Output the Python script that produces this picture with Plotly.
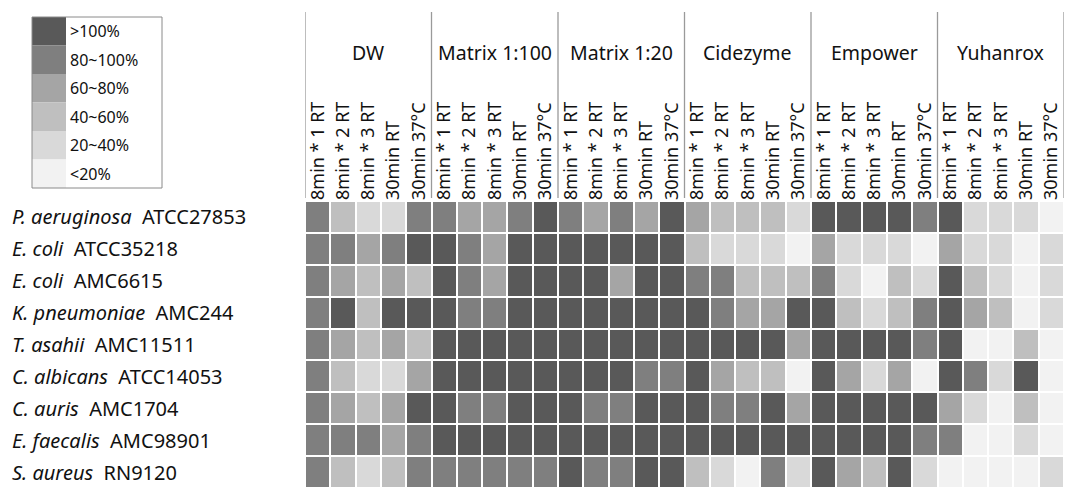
import plotly.graph_objects as go

groups = ["DW", "Matrix 1:100", "Matrix 1:20", "Cidezyme", "Empower", "Yuhanrox"]
conditions = ["8min * 1 RT", "8min * 2 RT", "8min * 3 RT", "30min RT", "30min 37°C"]
species = ["P. aeruginosa", "E. coli", "E. coli", "K. pneumoniae", "T. asahii",
           "C. albicans", "C. auris", "E. faecalis", "S. aureus"]
strains = ["ATCC27853", "ATCC35218", "AMC6615", "AMC244", "AMC11511",
           "ATCC14053", "AMC1704", "AMC98901", "RN9120"]
legend_labels = [">100%", "80~100%", "60~80%", "40~60%", "20~40%", "<20%"]
level_colors = ["#f2f2f2", "#d9d9d9", "#bfbfbf", "#a5a5a5", "#7f7f7f", "#595959"]

# levels: 0=<20%, 1=20~40%, 2=40~60%, 3=60~80%, 4=80~100%, 5=>100%
dw = [[4, 2, 1, 1, 4], [4, 4, 3, 4, 5], [4, 3, 2, 3, 2], [4, 5, 2, 5, 5], [4, 3, 2, 3, 2],
      [4, 2, 1, 1, 3], [4, 3, 2, 3, 5], [4, 4, 4, 3, 4], [4, 2, 1, 2, 4]]
matrix100 = [[4, 3, 3, 4, 5], [5, 4, 3, 5, 5], [5, 4, 3, 5, 5], [5, 4, 4, 5, 5], [5, 5, 5, 5, 5],
             [5, 5, 5, 5, 5], [5, 4, 4, 5, 5], [5, 5, 5, 5, 5], [4, 4, 4, 4, 4]]
matrix20 = [[4, 3, 4, 3, 5], [5, 5, 5, 5, 5], [5, 5, 3, 5, 5], [5, 5, 5, 5, 5], [5, 5, 5, 5, 5],
            [5, 5, 5, 4, 4], [5, 4, 4, 5, 5], [5, 5, 5, 5, 5], [5, 4, 4, 5, 5]]
cidezyme = [[3, 2, 2, 2, 1], [2, 1, 1, 1, 0], [4, 4, 2, 2, 2], [5, 4, 3, 3, 5], [5, 5, 5, 5, 3],
            [5, 3, 2, 2, 0], [5, 4, 4, 5, 3], [5, 5, 5, 5, 5], [2, 1, 0, 4, 1]]
empower = [[5, 5, 5, 5, 4], [3, 1, 1, 1, 0], [4, 1, 0, 2, 1], [5, 2, 1, 2, 4], [5, 5, 5, 5, 4],
           [5, 3, 1, 3, 0], [5, 5, 5, 5, 5], [5, 5, 5, 5, 4], [5, 3, 2, 5, 1]]
yuhanrox = [[5, 1, 1, 1, 0], [3, 1, 1, 0, 1], [5, 2, 1, 0, 1], [5, 3, 2, 0, 1], [5, 0, 0, 2, 0],
            [5, 4, 1, 5, 0], [3, 1, 0, 2, 0], [4, 0, 0, 1, 0], [0, 0, 0, 0, 1]]

blocks = [dw, matrix100, matrix20, cidezyme, empower, yuhanrox]
z = [sum((b[r] for b in blocks), []) for r in range(len(species))]
ncol = len(groups) * len(conditions)
xs = list(range(ncol))
ys = list(range(len(species)))
ticktext = conditions * len(groups)

W, H = 1077, 499
FONT = "Noto Sans"

def px(x):
    return x / W

def py(y):
    return 1 - y / H

n = len(level_colors)
cs = []
for i, c in enumerate(level_colors):
    cs.append([i / n, c])
    cs.append([(i + 1) / n, c])

fig = go.Figure(go.Heatmap(
    z=z, x=xs, y=ys, zmin=-0.5, zmax=n - 0.5, colorscale=cs, showscale=False,
    xgap=2, ygap=2, hoverinfo="skip"))

fig.update_layout(
    width=W, height=H, margin=dict(l=0, r=0, t=0, b=0, pad=0, autoexpand=False),
    paper_bgcolor="white", plot_bgcolor="white",
    font=dict(family=FONT, color="#111111"),
    xaxis=dict(domain=[px(305), px(1064)], side="top", tickmode="array",
               tickvals=xs, ticktext=ticktext, tickangle=-90, automargin=False,
               tickfont=dict(size=18, family=FONT), showgrid=False, zeroline=False,
               ticks="", range=[-0.5, ncol - 0.5], fixedrange=True),
    yaxis=dict(domain=[py(488), py(201)], autorange="reversed", showticklabels=False,
               automargin=False, showgrid=False, zeroline=False, ticks="", fixedrange=True),
)

shapes = []
annotations = []
# group separators and titles
for g in range(len(groups) + 1):
    shapes.append(dict(type="line", xref="x", yref="paper",
                       x0=g * 5 - 0.5, x1=g * 5 - 0.5, y0=py(198), y1=py(12),
                       line=dict(color="#9a9a9a", width=1.3)))
for g, name in enumerate(groups):
    annotations.append(dict(text=name, xref="x", yref="paper", x=g * 5 + 2, y=py(52),
                            showarrow=False, font=dict(size=19.5, family=FONT),
                            xanchor="center", yanchor="middle"))
# row labels
for r, (sp, st) in enumerate(zip(species, strains)):
    annotations.append(dict(text=f"<i>{sp}</i>  {st}", xref="paper", yref="y",
                            x=px(10), y=r, showarrow=False, xanchor="left",
                            yanchor="middle", font=dict(size=20, family=FONT)))
# legend
lx0, lx1, lsw = 32, 162, 66
ly0, ly1 = 17, 188
step = (ly1 - ly0) / len(legend_labels)
for i, lab in enumerate(legend_labels):
    col = level_colors[len(level_colors) - 1 - i]
    shapes.append(dict(type="rect", xref="paper", yref="paper",
                       x0=px(lx0), x1=px(lsw), y0=py(ly0 + (i + 1) * step), y1=py(ly0 + i * step),
                       fillcolor=col, line=dict(width=0)))
    annotations.append(dict(text=lab, xref="paper", yref="paper", x=px(68),
                            y=py(ly0 + (i + 0.5) * step), showarrow=False,
                            xanchor="left", yanchor="middle", font=dict(size=16, family=FONT)))
shapes.append(dict(type="rect", xref="paper", yref="paper",
                   x0=px(lx0), x1=px(lx1), y0=py(ly1), y1=py(ly0),
                   line=dict(color="#8a8a8a", width=1), fillcolor="rgba(0,0,0,0)"))

fig.update_layout(shapes=shapes, annotations=annotations)
fig.write_html("out.html", config={"displayModeBar": False},
               post_script="document.body.style.margin='0';")
